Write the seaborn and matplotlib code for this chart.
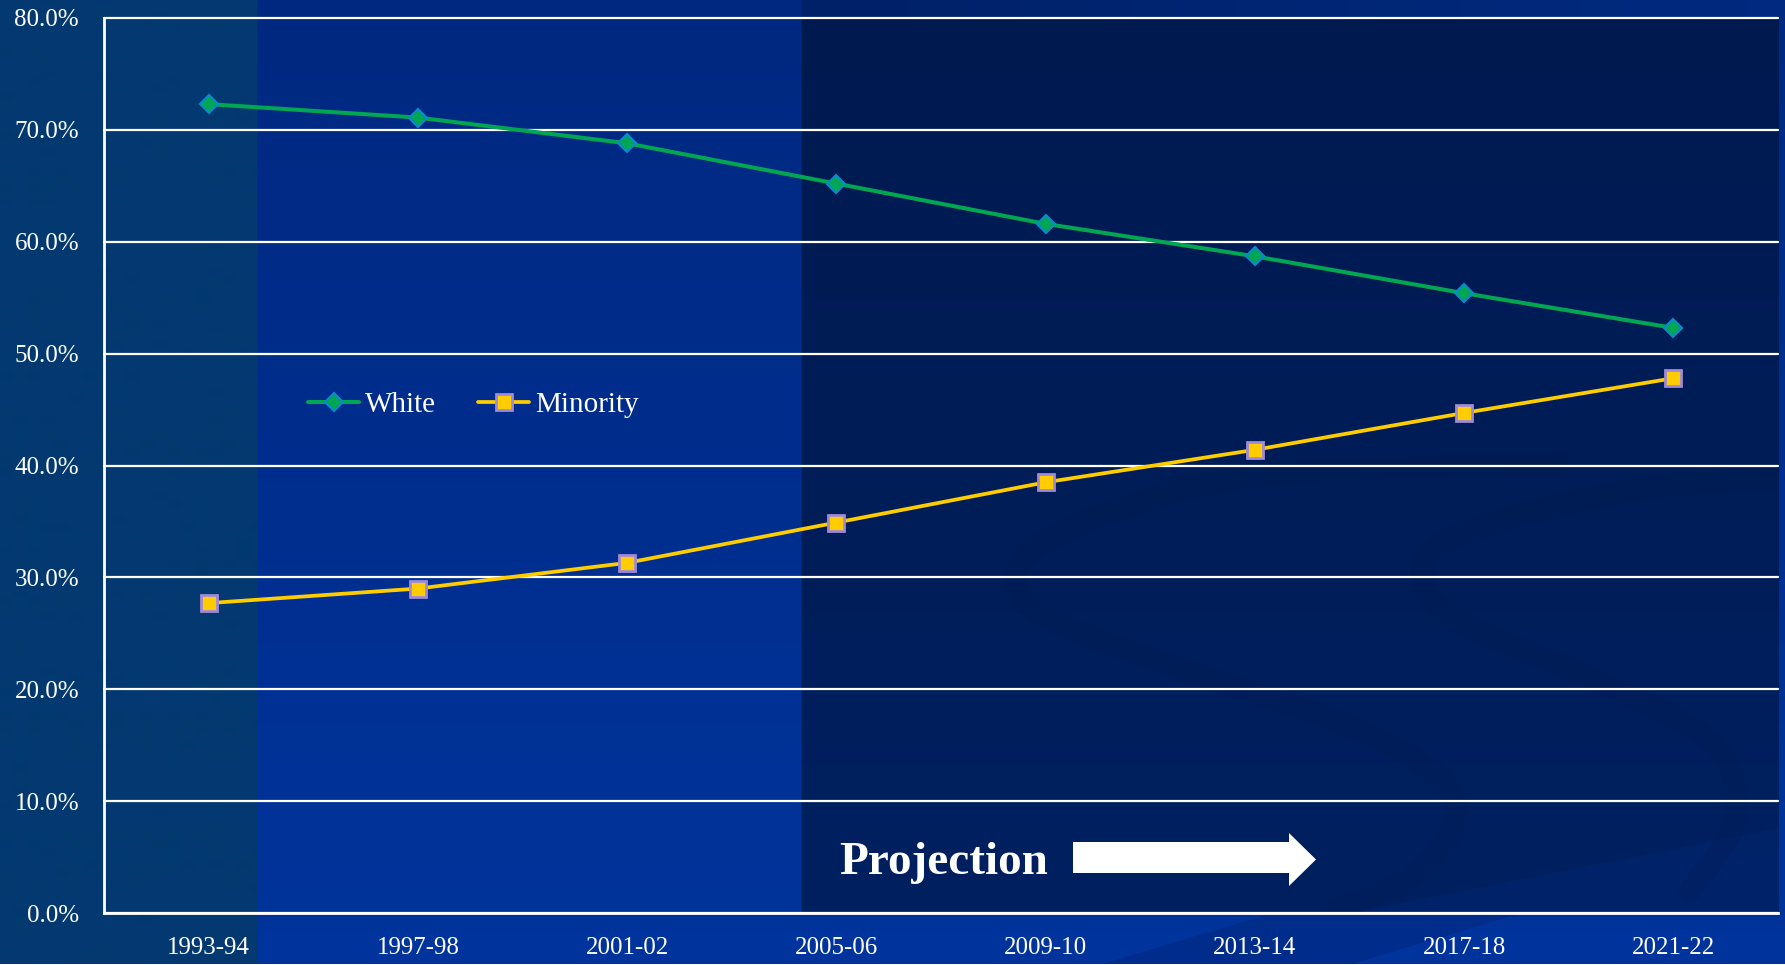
import numpy as np
import matplotlib
matplotlib.use("Agg")
import matplotlib.pyplot as plt
from matplotlib.patches import Polygon
import seaborn as sns

# ---- data -------------------------------------------------------------
years = ["1993-94", "1997-98", "2001-02", "2005-06",
         "2009-10", "2013-14", "2017-18", "2021-22"]
white = [72.3, 71.1, 68.8, 65.2, 61.6, 58.7, 55.4, 52.3]
minority = [27.7, 29.0, 31.3, 34.9, 38.5, 41.4, 44.7, 47.8]
y_ticks = [0, 10, 20, 30, 40, 50, 60, 70, 80]
series_names = ["White", "Minority"]
projection_label = "Projection"

# ---- style ------------------------------------------------------------
sns.set_style("white")
plt.rcParams["font.family"] = ["Liberation Serif", "DejaVu Serif"]

W, H = 1785, 965
GREEN = "#00a651"
GREEN_EDGE = "#0a8bd0"
GOLD = "#ffcc00"
GOLD_EDGE = "#a08ad8"


def lerp(c0, c1, t):
    c0 = np.array(c0, float) / 255.0
    c1 = np.array(c1, float) / 255.0
    t = np.asarray(t, float)[..., None]
    return c0 + (c1 - c0) * t


# ---- slide background ---------------------------------------------------
yy, xx = np.mgrid[0:H, 0:W]
img = lerp((0, 40, 128), (0, 52, 156), yy / H)

# teal side strip
img[xx < 258] = np.array((3, 57, 112)) / 255.0

# dark panel behind the projected years
px0, px1, py0, py1 = 802, 1779, 19, 913
panel = (xx >= px0) & (xx < px1) & (yy >= py0) & (yy < py1)
img[panel] = lerp((0, 26, 80), (0, 32, 96), (yy[panel] - py0) / (py1 - py0))
wedge = panel & (yy + 0.2 * (xx - 1360) > 912)
img[wedge] += np.array((0, 3, 9)) / 255.0

# band above the panel
top = (xx >= px0) & (yy < py0)
img[top] = lerp((0, 33, 104), (0, 42, 128), (xx[top] - px0) / (W - px0))

# diagonal streak under the panel
under = (xx >= px0) & (yy >= py1)
streak = under & (yy + 0.3 * (xx - 1100) > 965) & (yy + 0.3 * (xx - 1350) < 965)
img[streak] -= np.array((0, 6, 16)) / 255.0
img = np.clip(img, 0, 1)

fig = plt.figure(figsize=(W / 100, H / 100), dpi=100)
bg = fig.add_axes([0, 0, 1, 1], zorder=0)
bg.imshow(img, aspect="auto", interpolation="bilinear")
bg.set_xlim(0, W)
bg.set_ylim(H, 0)
bg.axis("off")


def smooth(points, n=40):
    """Catmull-Rom path through decorative anchor points."""
    p = np.array(points, float)
    p = np.vstack([p[0], p, p[-1]])
    out = []
    for i in range(1, len(p) - 2):
        p0, p1, p2, p3 = p[i - 1], p[i], p[i + 1], p[i + 2]
        for t in np.linspace(0, 1, n, endpoint=False):
            t2, t3 = t * t, t * t * t
            out.append(0.5 * ((2 * p1) + (-p0 + p2) * t
                              + (2 * p0 - 5 * p1 + 4 * p2 - p3) * t2
                              + (-p0 + 3 * p1 - 3 * p2 + p3) * t3))
    out.append(p[-2])
    return np.array(out)


# faint swirl ornaments on the dark panel
clip_rect = plt.Rectangle((px0, py0), px1 - px0, py1 - py0, transform=bg.transData)
for pts in (
    [(1560, 462), (1240, 478), (1040, 545), (1035, 610), (1180, 668),
     (1370, 735), (1455, 800), (1420, 870), (1330, 913)],
    [(1785, 478), (1620, 492), (1440, 545), (1445, 612), (1600, 682),
     (1715, 745), (1735, 820), (1690, 890)],
):
    c = smooth(pts)
    ln, = bg.plot(c[:, 0], c[:, 1], color="#00143f", lw=16, alpha=0.09,
                  solid_capstyle="round")
    ln.set_clip_path(clip_rect)

# ---- chart ------------------------------------------------------------
ax = fig.add_axes([104 / W, 1 - 913 / H, (1778 - 104) / W, (913 - 18) / H], zorder=1)
ax.set_facecolor("none")

sns.lineplot(x=years, y=white, ax=ax, sort=False, color=GREEN, lw=2.9,
             marker="D", markersize=9.5, markerfacecolor=GREEN,
             markeredgecolor=GREEN_EDGE, markeredgewidth=1.5,
             label=series_names[0])
sns.lineplot(x=years, y=minority, ax=ax, sort=False, color=GOLD, lw=2.7,
             marker="s", markersize=12, markerfacecolor=GOLD,
             markeredgecolor=GOLD_EDGE, markeredgewidth=2.0,
             label=series_names[1])

ax.set_xlim(-0.5, len(years) - 0.5)
ax.set_ylim(0, 80)
ax.set_xlabel("")
ax.set_ylabel("")

ax.set_xticks(range(len(years)))
ax.set_xticklabels(years)
ax.set_xticks(np.arange(-0.5, len(years), 1.0), minor=True)
ax.tick_params(axis="x", which="major", length=0, pad=17, labelsize=18,
               labelcolor="white")
ax.tick_params(axis="x", which="minor", length=7, width=2, color="white",
               direction="out")

ax.set_yticks(y_ticks)
ax.set_yticklabels([f"{v:.1f}%" for v in y_ticks])
ax.tick_params(axis="y", which="major", length=8, width=2, color="white",
               pad=10, labelsize=18, labelcolor="white", direction="out")

ax.yaxis.grid(True, color="white", lw=1.6)
ax.xaxis.grid(False)
for gl in ax.get_ygridlines():
    gl.set_clip_on(False)
ax.set_axisbelow(True)

for side in ("top", "right"):
    ax.spines[side].set_visible(False)
for side in ("left", "bottom"):
    ax.spines[side].set_color("white")
    ax.spines[side].set_linewidth(2)

leg = ax.legend(loc="center left", bbox_to_anchor=(308 / W, 1 - 405 / H),
                bbox_transform=fig.transFigure, ncol=2, frameon=False,
                fontsize=21, handlelength=1.75, handletextpad=0.2,
                columnspacing=1.45, borderpad=0, borderaxespad=0)
for txt in leg.get_texts():
    txt.set_color("white")

# projection call-out
fig.text(839 / W, 1 - 874 / H, projection_label, color="white",
         fontsize=34, fontweight="bold", ha="left", va="baseline")
arrow = Polygon([(1073, 842), (1289, 842), (1289, 833), (1316, 859.5),
                 (1289, 886), (1289, 873), (1073, 873)],
                closed=True, facecolor="white", edgecolor="none", zorder=5)
bg.add_patch(arrow)

fig.savefig("out.png", dpi=100)
